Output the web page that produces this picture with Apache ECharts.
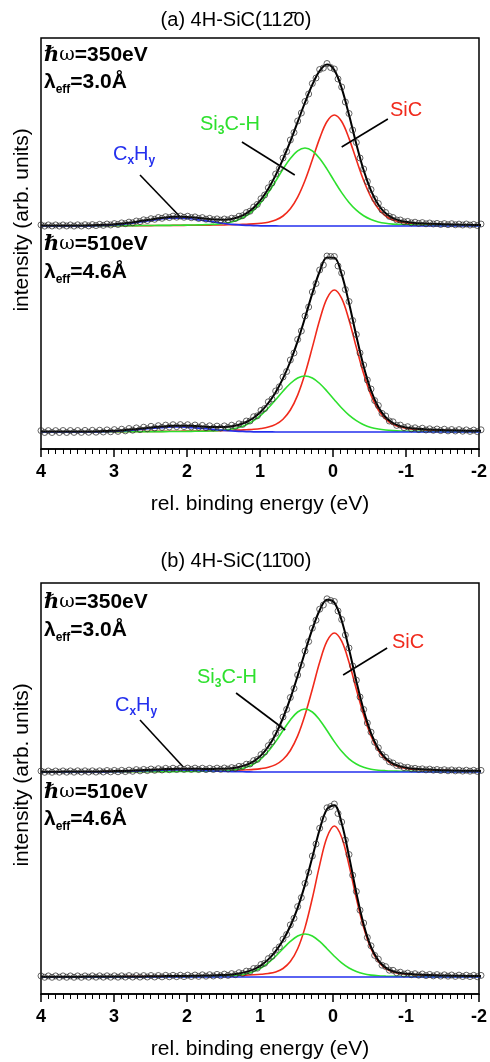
<!DOCTYPE html>
<html><head><meta charset="utf-8">
<script src="https://cdn.jsdelivr.net/npm/echarts@6/dist/echarts.min.js"></script>
<style>html,body{margin:0;padding:0;background:#fff}#c{width:490px;height:1062px}</style>
</head><body><div id="c"></div>
<script>
// ---------- energies (eV) ----------
const energyFit = [-2,-1.9,-1.8,-1.7,-1.6,-1.5,-1.4,-1.3,-1.2,-1.1,-1,-0.9,-0.8,-0.7,-0.6,-0.5,-0.4,-0.3,-0.2,-0.1,0,0.1,0.2,0.3,0.4,0.5,0.6,0.7,0.8,0.9,1,1.1,1.2,1.3,1.4,1.5,1.6,1.7,1.8,1.9,2,2.1,2.2,2.3,2.4,2.5,2.6,2.7,2.8,2.9,3,3.1,3.2,3.3,3.4,3.5,3.6,3.7,3.8,3.9,4];
const energyData = [-2,-1.95,-1.9,-1.85,-1.8,-1.75,-1.7,-1.65,-1.6,-1.55,-1.5,-1.45,-1.4,-1.35,-1.3,-1.25,-1.2,-1.15,-1.1,-1.05,-1,-0.95,-0.9,-0.85,-0.8,-0.75,-0.7,-0.65,-0.6,-0.55,-0.5,-0.45,-0.4,-0.35,-0.3,-0.25,-0.2,-0.15,-0.1,-0.05,0,0.05,0.1,0.15,0.2,0.25,0.3,0.35,0.4,0.45,0.5,0.55,0.6,0.65,0.7,0.75,0.8,0.85,0.9,0.95,1,1.05,1.1,1.15,1.2,1.25,1.3,1.35,1.4,1.45,1.5,1.55,1.6,1.65,1.7,1.75,1.8,1.85,1.9,1.95,2,2.05,2.1,2.15,2.2,2.25,2.3,2.35,2.4,2.45,2.5,2.55,2.6,2.65,2.7,2.75,2.8,2.85,2.9,2.95,3,3.05,3.1,3.15,3.2,3.25,3.3,3.35,3.4,3.45,3.5,3.55,3.6,3.65,3.7,3.75,3.8,3.85,3.9,3.95,4];
const xTicks = {min: -2, max: 4, interval: 1};

// ---------- (a) 350 eV ----------
const a350Data = [2.0,0.5,1.6,0.9,2.0,1.0,1.9,1.2,2.3,1.3,2.4,1.5,2.6,2.0,3.0,2.2,3.4,2.6,3.8,3.2,
 4.6,4.2,6.0,6.0,8.5,9.6,13.5,16.0,22.5,27.2,36.5,44.5,57.0,68.0,83.5,96.0,112.5,124.0,139.0,147.0,
 157.0,158.5,162.5,158.0,156.5,148.0,142.5,132.0,124.5,113.0,105.0,93.5,86.0,74.5,68.0,57.5,52.0,43.0,38.2,31.0,
 27.3,21.6,19.0,14.8,13.4,10.3,9.8,7.5,7.8,6.1,7.0,5.8,7.1,6.2,7.7,6.8,8.4,7.5,9.1,8.3,
 9.8,8.7,10.0,8.8,9.9,8.4,9.3,7.7,8.5,6.7,7.3,5.5,6.2,4.4,5.0,3.2,3.9,2.3,3.1,1.5,
 2.4,1.0,2.0,0.6,1.7,0.4,1.4,0.1,1.3,0.0,1.2,-0.1,1.1,0.0,1.1,-0.1,1.1,0.0,1.1,-0.1,1.1];
const a350Fit = [1.1,1.1,1.3,1.4,1.6,1.7,2.0,2.3,2.7,3.1,3.9,5.3,7.8,12.7,21.3,35.4,55.7,82.0,111.2,137.9,155.9,
 161.4,155.1,141.4,123.5,104.1,84.7,66.9,50.9,37.3,26.5,18.3,12.7,9.1,7.1,6.3,6.4,7.0,7.7,8.4,9.1,
 9.3,9.2,8.6,7.8,6.6,5.5,4.3,3.2,2.4,1.7,1.3,1.0,0.7,0.6,0.5,0.4,0.4,0.4,0.4,0.4];
const a350SiC = [0.7,0.7,0.8,0.9,1.0,1.1,1.3,1.5,1.8,2.1,2.7,3.8,5.9,10.0,17.2,28.9,45.5,66.2,87.6,104.5,111,
 104.5,87.6,66.2,45.5,28.9,17.2,10.0,5.9,3.8,2.7,2.1,1.8,1.5,1.3,1.1,1.0,0.9,0.8,0.7,0.7,
 0.6,0.6,0.5,0.5,0.4,0.4,0.4,0.3,0.3,0.3,0.3,0.3,0.2,0.2,0.2,0.2,0.2,0.2,0.2,0.2];
const a350Si3CH = [0.4,0.4,0.5,0.5,0.6,0.6,0.7,0.8,0.9,1.0,1.2,1.5,1.9,2.7,4.1,6.5,10.2,15.8,23.6,33.4,44.9,56.9,67.5,75.2,78,
 75.2,67.5,56.9,44.9,33.4,23.6,15.8,10.2,6.5,4.1,2.7,1.9,1.5,1.2,1.0,0.9,0.8,0.7,0.6,0.6,0.5,0.5,0.4,0.4,0.4,0.3,0.3,0.3,0.3,0.3,0.2,0.2,0.2,0.2,0.2,0.2];
const a350CxHy = [0,0,0,0,0,0,0,0,0,0,0,0,0,0,0,0,0,0,0,0,0,0,0,0,0,0,0,0,
 0.05,0.1,0.2,0.4,0.7,1.1,1.7,2.5,3.5,4.6,5.7,6.7,7.5,7.9,7.9,7.5,6.7,5.7,4.6,3.5,2.5,1.7,1.1,0.7,0.4,0.2,0.1,0.05,
 0,0,0,0,0];

// ---------- (a) 510 eV ----------
const a510Data = [2.2,0.4,1.9,0.6,2.1,0.8,2.4,1.0,2.5,1.1,2.8,1.4,3.0,1.7,3.2,2.0,3.8,2.5,4.2,3.1,
 5.3,4.4,6.9,6.6,10.2,11.0,16.0,18.6,26.5,31.5,43.0,52.0,67.0,79.0,97.5,111.5,130.5,142.5,159.0,166.0,
 175.5,175.5,176.0,167.0,162.0,148.5,140.0,125.0,116.0,101.0,92.5,79.0,72.0,60.5,55.0,45.2,41.0,33.0,30.2,23.5,
 21.6,16.2,15.3,11.0,11.0,7.6,8.2,5.5,6.8,4.5,6.1,4.0,5.9,4.1,6.2,4.4,6.6,4.8,7.0,5.1,
 7.3,5.4,7.4,5.3,7.3,5.0,6.9,4.6,6.3,4.0,5.7,3.2,4.8,2.4,4.1,1.8,3.5,1.1,2.8,0.6,
 2.4,0.2,2.1,0.0,1.8,-0.2,1.7,-0.3,1.6,-0.4,1.5,-0.4,1.5,-0.5,1.5,-0.5,1.4,-0.5,1.4,-0.5,1.4];
const a510Fit = [1.2,1.2,1.3,1.6,1.7,1.9,2.2,2.4,2.9,3.4,4.3,5.9,9.0,14.8,25.0,41.5,65.5,96.0,128.9,157.6,174.2,
 174.4,160.5,138.6,114.2,90.9,70.5,53.6,39.8,29.0,20.5,14.3,10.0,7.2,5.8,5.1,4.9,5.1,5.5,5.9,6.2,
 6.3,6.2,5.8,5.2,4.6,3.7,3.0,2.4,1.7,1.3,1.0,0.7,0.6,0.6,0.5,0.5,0.5,0.4,0.4,0.4];
const a510SiC = [0.9,0.9,1.0,1.2,1.3,1.5,1.7,1.9,2.3,2.7,3.5,4.9,7.6,12.8,22.0,36.9,58.2,84.6,112.0,133.6,142,
 133.6,112.0,84.6,58.2,36.9,22.0,12.8,7.6,4.9,3.5,2.7,2.3,1.9,1.7,1.5,1.3,1.2,1.0,0.9,0.9,
 0.8,0.7,0.7,0.6,0.6,0.5,0.5,0.5,0.4,0.4,0.4,0.3,0.3,0.3,0.3,0.3,0.3,0.2,0.2,0.2];
const a510Si3CH = [0.3,0.3,0.3,0.4,0.4,0.4,0.5,0.5,0.6,0.7,0.8,1.0,1.4,2.0,3.0,4.6,7.3,11.4,16.9,24.0,32.2,40.8,48.5,54.0,56,
 54.0,48.5,40.8,32.2,24.0,16.9,11.4,7.3,4.6,3.0,2.0,1.4,1.0,0.8,0.7,0.6,0.5,0.5,0.4,0.4,0.4,0.3,0.3,0.3,0.2,0.2,0.2,0.2,0.2,0.2,0.2,0.2,0.2,0.2,0.2,0.2];
const a510CxHy = [0,0,0,0,0,0,0,0,0,0,0,0,0,0,0,0,0,0,0,0,0,0,0,0,0,0,0,0,0,
 0.1,0.1,0.2,0.4,0.7,1.1,1.6,2.2,2.9,3.6,4.2,4.7,5.0,5.0,4.7,4.2,3.6,2.9,2.2,1.6,1.1,0.7,0.4,0.2,0.1,0.1,
 0,0,0,0,0,0];

// ---------- (b) 350 eV ----------
const b350Data = [1.6,0.6,1.7,0.8,1.8,0.9,1.9,1.1,2.1,1.2,2.3,1.5,2.5,1.8,2.9,2.1,3.2,2.6,3.7,3.3,
 4.7,4.4,6.2,6.5,9.0,10.3,14.6,17.4,24.2,29.8,39.8,49.0,62.5,75.0,91.8,106.0,124.0,137.0,152.5,161.0,
 170.5,171.5,173.2,167.0,162.8,151.8,143.8,130.5,121.0,107.0,97.0,83.5,74.5,62.6,55.0,44.6,38.7,30.4,26.3,20.0,
 17.4,12.6,11.4,8.0,7.8,5.4,5.7,3.7,4.4,2.9,4.0,2.6,3.9,2.5,3.7,2.4,3.8,2.5,3.9,2.6,
 3.9,2.6,4.0,2.5,3.8,2.3,3.7,2.0,3.3,1.7,3.0,1.4,2.6,1.1,2.4,0.7,1.9,0.4,1.7,0.2,
 1.6,0.1,1.5,0.0,1.2,-0.1,1.2,-0.1,1.2,-0.1,1.2,-0.2,1.1,-0.2,1.1,-0.2,1.0,-0.3,1.0,-0.3,1.0];
const b350Fit = [1.0,1.2,1.3,1.4,1.6,1.8,2.0,2.4,2.7,3.2,4.1,5.6,8.4,13.8,23.3,38.9,61.7,90.8,122.9,151.5,169.4,
 172.3,161.8,142.8,120.0,96.1,73.6,54.0,37.8,25.5,16.6,10.6,7.1,5.0,3.8,3.3,3.2,3.0,3.1,3.2,3.2,
 3.3,3.1,3.0,2.6,2.3,1.9,1.7,1.2,1.0,0.9,0.8,0.5,0.5,0.5,0.5,0.4,0.4,0.3,0.3,0.3];
const b350SiC = [0.8,0.9,1.0,1.1,1.3,1.4,1.6,1.9,2.2,2.6,3.4,4.8,7.4,12.5,21.5,36.1,57.0,82.8,109.7,130.8,139,
 130.8,109.7,82.8,57.0,36.1,21.5,12.5,7.4,4.8,3.4,2.6,2.2,1.9,1.6,1.4,1.3,1.1,1.0,0.9,0.8,
 0.8,0.7,0.7,0.6,0.6,0.5,0.5,0.4,0.4,0.4,0.4,0.3,0.3,0.3,0.3,0.3,0.3,0.2,0.2,0.2];
const b350Si3CH = [0.2,0.3,0.3,0.3,0.3,0.4,0.4,0.5,0.5,0.6,0.7,0.8,1.0,1.3,1.8,2.8,4.7,8.0,13.2,20.7,30.4,41.5,52.1,60.0,63,
 60.0,52.1,41.5,30.4,20.7,13.2,8.0,4.7,2.8,1.8,1.3,1.0,0.8,0.7,0.6,0.5,0.5,0.4,0.4,0.3,0.3,0.3,0.3,0.2,0.2,0.2,0.2,0.2,0.2,0.2,0.1,0.1,0.1,0.1,0.1,0.1];
const b350CxHy = [0,0,0,0,0,0,0,0,0,0,0,0,0,0,0,0,0,0,0,0,0,0,0,0,0,0,0,0,0,0,0,0,
 0.2,0.3,0.4,0.6,0.9,1.1,1.4,1.7,1.9,2.0,2.0,1.9,1.7,1.4,1.1,0.9,0.6,0.4,0.3,0.2,
 0,0,0,0,0,0,0,0,0];

// ---------- (b) 510 eV ----------
const b510Data = [1.6,0.3,1.7,0.4,1.8,0.5,1.9,0.6,2.0,0.8,2.2,0.9,2.4,1.1,2.6,1.4,3.0,1.8,3.3,2.3,
 3.9,3.0,4.8,4.2,6.7,6.8,10.4,11.8,17.8,21.6,31.2,39.5,54.0,66.8,85.5,101.8,122.5,137.0,155.0,163.5,
 173.0,170.5,169.2,158.0,148.8,133.0,121.0,104.8,93.6,79.4,70.4,58.7,52.1,42.5,37.8,30.1,26.8,20.7,18.4,13.7,
 12.5,8.8,8.5,5.6,5.9,3.5,4.3,2.3,3.4,1.6,2.9,1.2,2.6,1.0,2.3,0.8,2.2,0.6,2.0,0.5,
 1.9,0.4,1.8,0.3,1.7,0.2,1.7,0.1,1.5,0.0,1.5,0.0,1.4,-0.1,1.4,-0.1,1.4,-0.1,1.2,-0.2,
 1.2,-0.2,1.2,-0.2,1.2,-0.2,1.2,-0.2,1.1,-0.3,1.1,-0.3,1.1,-0.3,1.1,-0.3,1.1,-0.3,1.1,-0.3,1.1];
const b510Fit = [0.9,1.0,1.1,1.2,1.3,1.5,1.7,1.9,2.3,2.6,3.2,4.0,5.8,9.4,16.6,30.1,52.6,84.2,120.9,153.8,171.8,
 168.0,147.5,119.7,92.4,69.2,51.0,36.8,25.9,17.6,11.7,7.7,5.1,3.5,2.6,2.1,1.8,1.5,1.4,1.2,1.1,
 1.0,0.9,0.9,0.7,0.7,0.6,0.6,0.6,0.4,0.4,0.4,0.4,0.4,0.4,0.3,0.3,0.3,0.3,0.3,0.3];
const b510SiC = [0.7,0.8,0.9,1.0,1.1,1.2,1.4,1.6,1.9,2.2,2.7,3.5,5.1,8.5,15.4,28.2,49.4,78.7,111.9,139.7,151,
 139.7,111.9,78.7,49.4,28.2,15.4,8.5,5.1,3.5,2.7,2.2,1.9,1.6,1.4,1.2,1.1,1.0,0.9,0.8,0.7,
 0.7,0.6,0.6,0.5,0.5,0.4,0.4,0.4,0.3,0.3,0.3,0.3,0.3,0.3,0.2,0.2,0.2,0.2,0.2,0.2];
const b510Si3CH = [0.2,0.2,0.2,0.2,0.2,0.3,0.3,0.3,0.4,0.4,0.5,0.5,0.7,0.9,1.2,1.9,3.2,5.5,9.0,14.1,20.8,28.3,35.6,41.0,43,
 41.0,35.6,28.3,20.8,14.1,9.0,5.5,3.2,1.9,1.2,0.9,0.7,0.5,0.5,0.4,0.4,0.3,0.3,0.3,0.2,0.2,0.2,0.2,0.2,0.1,0.1,0.1,0.1,0.1,0.1,0.1,0.1,0.1,0.1,0.1,0.1];
const b510CxHy = [0,0,0,0,0,0,0,0,0,0,0,0,0,0,0,0,0,0,0,0,0,0,0,0,0,0,0,0,0,0,0,0,0,0,0,0,0,0,0,0,0,0,0,0,0,0,0,0,0,0,0,0,0,0,0,0,0,0,0,0,0];

// ---------- annotation arrows (data coords: [eV, intensity]) ----------
const arrowsA = [[[-0.73,107],[-0.10,79]],[[1.26,84],[0.54,51]],[[2.65,51],[2.10,9]]];
const arrowsB = [[[-0.72,124],[-0.12,97]],[[1.34,79],[0.67,42]],[[2.65,52],[2.06,5]]];

// ---------- rendering ----------
const FONT = '"Liberation Sans", Arial, Helvetica, sans-serif';
const COL = {fit:'#000000', sic:'#f02a1c', si3ch:'#2ee02e', cxhy:'#2430ee', data:'#2a2a2a'};
const chart = echarts.init(document.getElementById('c'), null, {renderer:'canvas'});
const pairs = (xs, ys) => xs.map((x, i) => [x, ys[i]]);

const L = 41, W = 440;
const grid = [
  {left:L, top:38, width:W, height:411, show:true, borderColor:'#000', borderWidth:1.5, backgroundColor:'transparent'},
  {left:L, top:38, width:W, height:198},
  {left:L, top:236, width:W, height:213},
  {left:L, top:583, width:W, height:411, show:true, borderColor:'#000', borderWidth:1.5, backgroundColor:'transparent'},
  {left:L, top:583, width:W, height:199},
  {left:L, top:782, width:W, height:212}
];
const visibleX = (g) => ({
  gridIndex:g, type:'value', min:xTicks.min, max:xTicks.max, interval:xTicks.interval, inverse:true,
  axisLine:{show:true, onZero:false, lineStyle:{color:'#000', width:1.5}},
  axisTick:{show:true, inside:false, length:8, lineStyle:{color:'#000', width:1.5}},
  minorTick:{show:true, splitNumber:10, length:5, lineStyle:{color:'#000', width:1}},
  splitLine:{show:false}, minorSplitLine:{show:false},
  axisLabel:{fontSize:18, fontWeight:'bold', color:'#000', margin:14, fontFamily:FONT},
  name:'rel. binding energy (eV)', nameLocation:'middle', nameGap:45,
  nameTextStyle:{fontSize:21, color:'#000', fontFamily:FONT}
});
const hiddenX = (g) => ({gridIndex:g, type:'value', min:xTicks.min, max:xTicks.max, inverse:true, show:false});
const xAxis = [visibleX(0), hiddenX(1), hiddenX(2), visibleX(3), hiddenX(4), hiddenX(5)];
const yAxis = [
  {gridIndex:0, type:'value', show:false, min:0, max:1},
  {gridIndex:1, type:'value', show:false, min:-10, max:188},
  {gridIndex:2, type:'value', show:false, min:-17, max:196},
  {gridIndex:3, type:'value', show:false, min:0, max:1},
  {gridIndex:4, type:'value', show:false, min:-10, max:189},
  {gridIndex:5, type:'value', show:false, min:-17, max:195}
];

function spectrum(g, data, fit, sic, si3ch, cxhy, arrows) {
  const line = (arr, color, width, z) => ({
    type:'line', xAxisIndex:g, yAxisIndex:g, data:pairs(energyFit, arr), symbol:'none', showSymbol:false,
    smooth:0.35, lineStyle:{color, width}, z, silent:true, animation:false
  });
  const fitSeries = line(fit, COL.fit, 2, 4);
  if (arrows) {
    fitSeries.markLine = {
      silent:true, symbol:['none','arrow'], symbolSize:[0,9], animation:false,
      lineStyle:{color:'#000', width:1.6, type:'solid'}, label:{show:false},
      data: arrows.map(a => [{coord:a[0]}, {coord:a[1]}])
    };
  }
  return [
    line(sic, COL.sic, 1.6, 2),
    line(si3ch, COL.si3ch, 1.6, 2),
    line(cxhy, COL.cxhy, 1.7, 3),
    fitSeries,
    {type:'scatter', xAxisIndex:g, yAxisIndex:g, data:pairs(energyData, data), symbol:'circle', symbolSize:6,
     itemStyle:{color:'rgba(255,255,255,0)', borderColor:COL.data, borderWidth:0.9}, z:5, silent:true, animation:false}
  ];
}

const series = [].concat(
  spectrum(1, a350Data, a350Fit, a350SiC, a350Si3CH, a350CxHy, arrowsA),
  spectrum(2, a510Data, a510Fit, a510SiC, a510Si3CH, a510CxHy, null),
  spectrum(4, b350Data, b350Fit, b350SiC, b350Si3CH, b350CxHy, arrowsB),
  spectrum(5, b510Data, b510Fit, b510SiC, b510Si3CH, b510CxHy, null)
);

const rich = {
  n:{fontSize:21, fontWeight:'bold', fontFamily:FONT, fill:'#000', lineHeight:26, verticalAlign:'middle'},
  h:{fontSize:21, fontWeight:'bold', fontFamily:'"DejaVu Serif", serif', fontStyle:'italic', fill:'#000', lineHeight:26, verticalAlign:'middle'},
  w:{fontSize:19, fontFamily:'"DejaVu Serif", serif', fill:'#000', lineHeight:26, verticalAlign:'middle'},
  s:{fontSize:12, fontWeight:'bold', fontFamily:FONT, fill:'#000', lineHeight:12, verticalAlign:'bottom'},
  r:{fontSize:20, fontFamily:FONT, fill:COL.sic, lineHeight:26, verticalAlign:'middle'},
  g:{fontSize:20, fontFamily:FONT, fill:COL.si3ch, lineHeight:26, verticalAlign:'middle'},
  gs:{fontSize:12, fontWeight:'bold', fontFamily:FONT, fill:COL.si3ch, lineHeight:12, verticalAlign:'bottom'},
  b:{fontSize:20, fontFamily:FONT, fill:COL.cxhy, lineHeight:26, verticalAlign:'middle'},
  bs:{fontSize:12, fontWeight:'bold', fontFamily:FONT, fill:COL.cxhy, lineHeight:12, verticalAlign:'bottom'}
};
const rt = (left, top, text) => ({type:'text', left, top, silent:true, style:{text, rich}});
const hw = (e) => '{h|\u210F}{w|\u03C9}{n|=' + e + 'eV}';
const lam = (v) => '{n|\u03BB}{s|eff}{n|=' + v + '\u00C5}';
const plain = (x, y, text, size, rot) => ({type:'text', x, y, rotation:rot || 0, silent:true,
  style:{text, fontSize:size, fontFamily:FONT, fill:'#000', textAlign:'center', textVerticalAlign:'middle', verticalAlign:'middle'}});

const graphic = [
  plain(236, 20, '(a) 4H-SiC(112\u03040)', 20),
  plain(236, 561, '(b) 4H-SiC(11\u030400)', 20),
  plain(22, 220, 'intensity (arb. units)', 21, Math.PI/2),
  plain(22, 775, 'intensity (arb. units)', 21, Math.PI/2),
  rt(44, 45, hw('350')), rt(44, 72, lam('3.0')),
  rt(44, 234, hw('510')), rt(44, 262, lam('4.6')),
  rt(44, 592, hw('350')), rt(44, 620, lam('3.0')),
  rt(44, 782, hw('510')), rt(44, 809, lam('4.6')),
  rt(390, 100, '{r|SiC}'), rt(200, 114, '{g|Si}{gs|3}{g|C-H}'), rt(113, 144, '{b|C}{bs|x}{b|H}{bs|y}'),
  rt(392, 632, '{r|SiC}'), rt(197, 667, '{g|Si}{gs|3}{g|C-H}'), rt(115, 695, '{b|C}{bs|x}{b|H}{bs|y}')
];

chart.setOption({animation:false, backgroundColor:'#fff', grid, xAxis, yAxis, series, graphic});
</script>
</body></html>
